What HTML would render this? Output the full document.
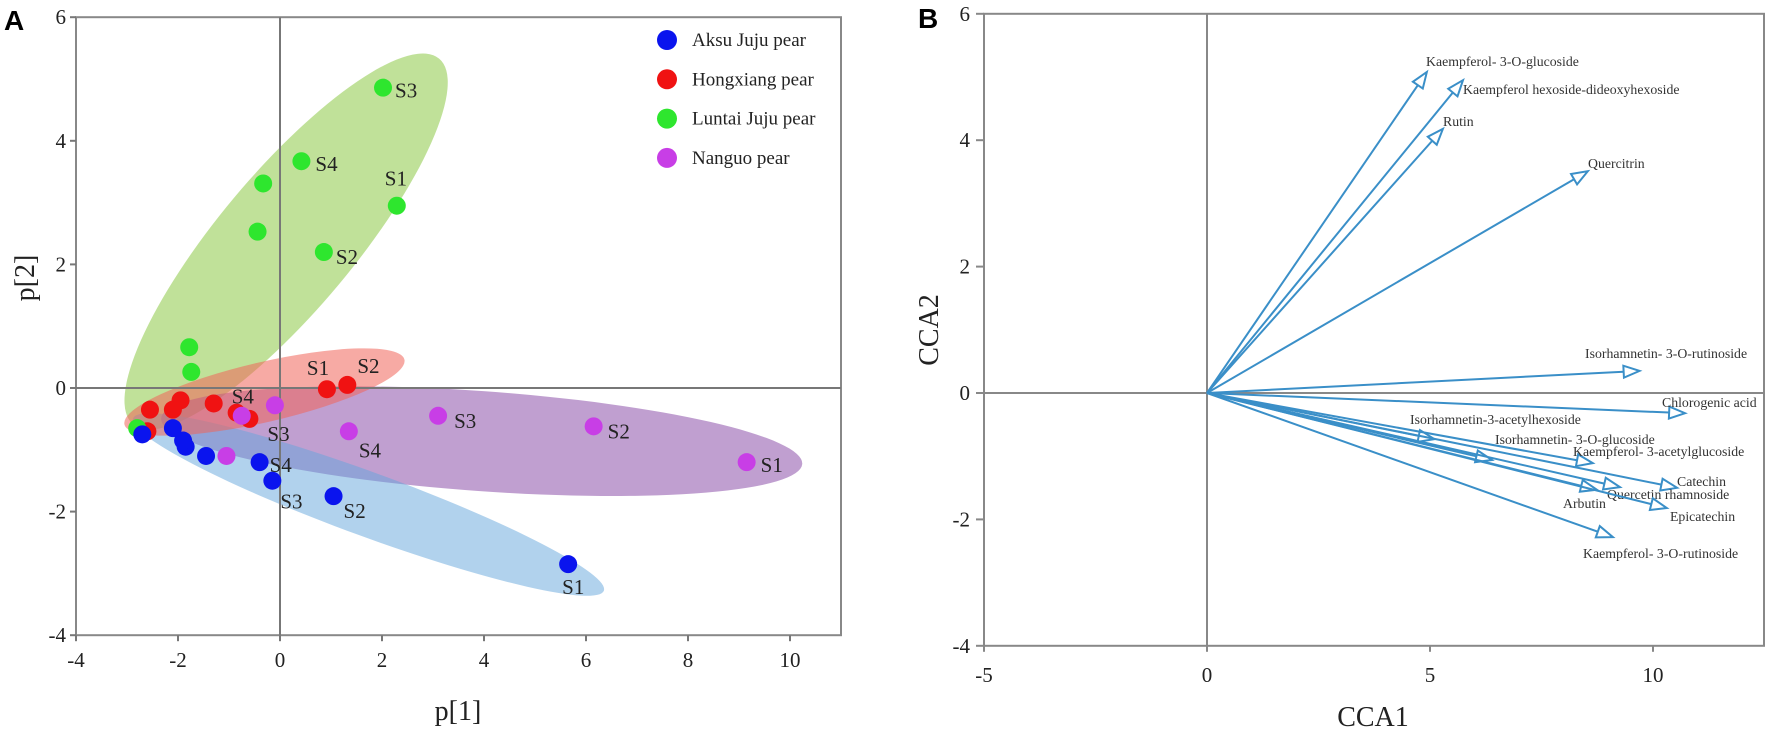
<!DOCTYPE html>
<html><head><meta charset="utf-8">
<style>
html,body{margin:0;padding:0;background:#fff;}
svg{display:block;font-family:"Liberation Serif",serif;}
.pl{font-family:"Liberation Sans",sans-serif;font-weight:bold;font-size:28px;}
</style></head>
<body>
<svg id="fig" width="1772" height="730" viewBox="0 0 1772 730"></svg>
<script>
// ---------- Panel A data ----------
const groupNames = ["Aksu Juju pear","Hongxiang pear","Luntai Juju pear","Nanguo pear"];
const groupColors = ["#0a14ee","#f01212","#2ee62e","#c83ee6"];
const aksuX = [5.65,1.05,-0.15,-0.4,-1.45,-1.85,-1.9,-2.1,-2.7];
const aksuY = [-2.85,-1.75,-1.5,-1.2,-1.1,-0.95,-0.85,-0.65,-0.75];
const aksuLab = ["S1","S2","S3","S4","","","","",""];
const hongX = [0.92,1.32,-0.6,-1.3,-1.95,-2.1,-2.55,-0.85,-2.6];
const hongY = [-0.02,0.05,-0.5,-0.25,-0.2,-0.35,-0.35,-0.4,-0.7];
const hongLab = ["S1","S2","S3","S4","","","","",""];
const luntX = [2.29,0.86,2.02,0.42,-0.33,-0.44,-1.78,-1.74,-2.8];
const luntY = [2.95,2.2,4.86,3.67,3.31,2.53,0.66,0.26,-0.65];
const luntLab = ["S1","S2","S3","S4","","","","",""];
const nanX = [9.15,6.15,3.1,1.35,-0.1,-1.05,-0.75];
const nanY = [-1.2,-0.62,-0.45,-0.7,-0.28,-1.1,-0.45];
const nanLab = ["S1","S2","S3","S4","","",""];
const ellTipX1 = [-2.88,-3.05,-2.88,-2.33];
const ellTipY1 = [-0.49,-0.59,-0.59,-0.49];
const ellTipX2 = [6.35,2.44,3.12,10.24];
const ellTipY2 = [-3.28,0.46,5.33,-1.23];
const aXTicks = [-4,-2,0,2,4,6,8,10];
const aYTicks = [-4,-2,0,2,4,6];

// ---------- Panel B data ----------
const varNames = ["Kaempferol- 3-O-glucoside","Kaempferol hexoside-dideoxyhexoside","Rutin","Quercitrin","Isorhamnetin- 3-O-rutinoside","Chlorogenic acid","Isorhamnetin-3-acetylhexoside","Isorhamnetin- 3-O-glucoside","Kaempferol- 3-acetylglucoside","Catechin","Quercetin rhamnoside","Arbutin","Epicatechin","Kaempferol- 3-O-rutinoside"];
const varCCA1 = [4.93,5.74,5.29,8.54,9.7,10.72,5.1,6.39,8.65,10.54,9.26,8.74,10.31,9.1];
const varCCA2 = [5.08,4.95,4.18,3.51,0.35,-0.32,-0.73,-1.06,-1.11,-1.5,-1.49,-1.53,-1.82,-2.28];
const bXTicks = [-5,0,5,10];
const bYTicks = [-4,-2,0,2,4,6];

const NS="http://www.w3.org/2000/svg";
const svg=document.getElementById('fig');
function mk(tag,attrs,parent){const e=document.createElementNS(NS,tag);for(const k in attrs)e.setAttribute(k,attrs[k]);(parent||svg).appendChild(e);return e;}

const AX=v=>280+51*v, AY=v=>388-61.8*v;
const BX=v=>1207+44.6*v, BY=v=>393-63.2*v;

// ===== Panel A =====
const gA=mk('g',{});


const lA=mk('text',{x:4,y:30,class:'pl'},gA);lA.textContent='A';


const fA=mk('rect',{x:AX(-4),y:AY(6),width:AX(11)-AX(-4),height:AY(-4)-AY(6),fill:'none',stroke:'#888','stroke-width':2},gA);


const ellFill=["rgba(100,165,220,0.5)","rgba(240,100,90,0.55)","rgba(140,200,70,0.55)","rgba(140,80,170,0.55)"];
const ellHalfW=[32,30,68,50];
const ellOrder=[2,3,0,1];
ellOrder.forEach(i=>{
  const x1=AX(ellTipX1[i]),y1=AY(ellTipY1[i]),x2=AX(ellTipX2[i]),y2=AY(ellTipY2[i]);
  const cx=(x1+x2)/2,cy=(y1+y2)/2,rx=Math.hypot(x2-x1,y2-y1)/2,ang=Math.atan2(y2-y1,x2-x1)*180/Math.PI;
  const e=mk('ellipse',{cx:cx,cy:cy,rx:rx,ry:ellHalfW[i],fill:ellFill[i],transform:`rotate(${ang} ${cx} ${cy})`},gA);
  
  
});
const z1=mk('line',{x1:AX(0),x2:AX(0),y1:AY(6),y2:AY(-4),stroke:'#777','stroke-width':2},gA);


const z2=mk('line',{x1:AX(-4),x2:AX(11),y1:AY(0),y2:AY(0),stroke:'#777','stroke-width':2},gA);


aXTicks.forEach(t=>{
  mk('line',{x1:AX(t),x2:AX(t),y1:AY(-4),y2:AY(-4)+6,stroke:'#777','stroke-width':2},gA);
  const tx=mk('text',{x:AX(t),y:667,'text-anchor':'middle','font-size':21,fill:'#222'},gA);tx.textContent=t;
  
  
});
aYTicks.forEach(t=>{
  mk('line',{x1:AX(-4)-6,x2:AX(-4),y1:AY(t),y2:AY(t),stroke:'#777','stroke-width':2},gA);
  const tx=mk('text',{x:AX(-4)-10,y:AY(t)+7,'text-anchor':'end','font-size':21,fill:'#222'},gA);tx.textContent=t;
  
  
});
const xt=mk('text',{x:458,y:720,'text-anchor':'middle','font-size':28,fill:'#222'},gA);xt.textContent='p[1]';


const yt=mk('text',{x:0,y:0,'text-anchor':'middle','font-size':28,fill:'#222',transform:'translate(34,278) rotate(-90)'},gA);yt.textContent='p[2]';


const groupsX=[aksuX,hongX,luntX,nanX],groupsY=[aksuY,hongY,luntY,nanY],groupsL=[aksuLab,hongLab,luntLab,nanLab];
const labOff={ "0S1":[-6,30],"0S2":[10,22],"0S3":[8,28],"0S4":[10,10],
  "1S1":[-20,-14],"1S2":[10,-12],"1S3":[18,22],"1S4":[18,0],
  "2S1":[-12,-20],"2S2":[12,12],"2S3":[12,10],"2S4":[14,10],
  "3S1":[14,10],"3S2":[14,12],"3S3":[16,12],"3S4":[10,26]};
[1,2,3,0].forEach(g=>{
  groupsX[g].forEach((v,i)=>{
    const c=mk('circle',{cx:AX(v),cy:AY(groupsY[g][i]),r:9,fill:groupColors[g]},gA);
    
    
    const lb=groupsL[g][i];
    if(lb){const o=labOff[g+lb];
      const t=mk('text',{x:AX(v)+o[0],y:AY(groupsY[g][i])+o[1],'font-size':21,fill:'#222'},gA);t.textContent=lb;
      
      }
  });
});
groupNames.forEach((n,i)=>{
  const y=40+39.3*i;
  const c=mk('circle',{cx:667,cy:y,r:10,fill:groupColors[i]},gA);
  
  
  const t=mk('text',{x:692,y:y+6,'font-size':19,fill:'#222'},gA);t.textContent=n;
  
  
});

// ===== Panel B =====
const gB=mk('g',{});


const lB=mk('text',{x:918,y:28,class:'pl'},gB);lB.textContent='B';


const fB=mk('rect',{x:BX(-5),y:BY(6),width:1764-BX(-5),height:BY(-4)-BY(6),fill:'none',stroke:'#888','stroke-width':2},gB);


const z3=mk('line',{x1:BX(0),x2:BX(0),y1:BY(6),y2:BY(-4),stroke:'#888','stroke-width':2},gB);


const z4=mk('line',{x1:BX(-5),x2:1764,y1:BY(0),y2:BY(0),stroke:'#888','stroke-width':2},gB);


bXTicks.forEach(t=>{
  mk('line',{x1:BX(t),x2:BX(t),y1:BY(-4),y2:BY(-4)+6,stroke:'#888','stroke-width':2},gB);
  const tx=mk('text',{x:BX(t),y:682,'text-anchor':'middle','font-size':21,fill:'#222'},gB);tx.textContent=t;
  
  
});
bYTicks.forEach(t=>{
  mk('line',{x1:BX(-5)-8,x2:BX(-5),y1:BY(t),y2:BY(t),stroke:'#888','stroke-width':2},gB);
  const tx=mk('text',{x:BX(-5)-14,y:BY(t)+7,'text-anchor':'end','font-size':21,fill:'#222'},gB);tx.textContent=t;
  
  
});
const xtb=mk('text',{x:1373,y:726,'text-anchor':'middle','font-size':28,fill:'#222'},gB);xtb.textContent='CCA1';


const ytb=mk('text',{x:0,y:0,'text-anchor':'middle','font-size':28,fill:'#222',transform:'translate(938,330) rotate(-90)'},gB);ytb.textContent='CCA2';


const lblPos=[[1426,66],[1463,94],[1443,126],[1588,168],[1585,358],[1662,407],[1410,424],[1495,444],[1573,456],[1677,486],[1607,499],[1563,508],[1670,521],[1583,558]];
varNames.forEach((n,i)=>{
  const x0=BX(0),y0=BY(0),x1=BX(varCCA1[i]),y1=BY(varCCA2[i]);
  const a=Math.atan2(y1-y0,x1-x0),L=16,W=6;
  const bx=x1-L*Math.cos(a),by=y1-L*Math.sin(a);
  const ln=mk('line',{x1:x0,y1:y0,x2:bx,y2:by,stroke:'#3a8fc8','stroke-width':2},gB);
  
  
  const px=-Math.sin(a),py=Math.cos(a);
  const hd=mk('polygon',{points:`${x1},${y1} ${bx+W*px},${by+W*py} ${bx-W*px},${by-W*py}`,fill:'none',stroke:'#3a8fc8','stroke-width':2},gB);
  
  
  const t=mk('text',{x:lblPos[i][0],y:lblPos[i][1],'font-size':13.8,fill:'#333'},gB);t.textContent=n;
  
  
});
</script>
</body></html>
